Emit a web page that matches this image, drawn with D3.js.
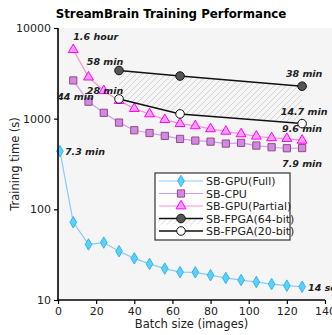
<!DOCTYPE html>
<html>
<head>
<meta charset="utf-8">
<script src="https://cdn.jsdelivr.net/npm/d3@7"></script>
<style>
  body { margin: 0; background: #fff; }
  svg { font-family: "DejaVu Sans", sans-serif; }
</style>
</head>
<body>
<svg id="chart" width="332" height="335"></svg>
<script>
// batch sizes
const batchSizes = [8, 16, 24, 32, 40, 48, 56, 64, 72, 80, 88, 96, 104, 112, 120, 128];
const gpuFullX = [1].concat(batchSizes);
const gpuFull = [438, 72, 41, 43, 34.5, 28.8, 25, 22.2, 20.3, 20.2, 18.8, 17.5, 16.6, 15.8, 15, 14.4, 14];
const cpu = [2640, 1540, 1160, 905, 745, 695, 645, 598, 573, 558, 531, 541, 505, 484, 472, 474];
const gpuPartial = [5760, 2870, 2030, 1580, 1290, 1127, 975, 881, 832, 771, 725, 679, 640, 614, 603, 576];
const fpgaX = [32, 64, 128];
const fpga64 = [3400, 2950, 2280];
const fpga20 = [1650, 1128, 882];
const xTicks = [0, 20, 40, 60, 80, 100, 120, 140];
const yTicks = [10, 100, 1000, 10000];

const svg = d3.select("#chart");
const mLeft = 58, mRight = 325, mTop = 28, mBottom = 300;

const x = d3.scaleLinear().domain([0, 140]).range([mLeft, mRight]);
const y = d3.scaleLog().domain([10, 10000]).range([mBottom, mTop]);

// hatch pattern for FPGA gap
const defs = svg.append("defs");
const pat = defs.append("pattern")
  .attr("id", "hatch")
  .attr("patternUnits", "userSpaceOnUse")
  .attr("width", 6).attr("height", 6);
pat.append("path")
  .attr("d", "M-1,1 l2,-2 M0,6 l6,-6 M5,7 l2,-2")
  .attr("stroke", "#d4d4d4").attr("stroke-width", 1);

// plot background
svg.append("rect")
  .attr("x", mLeft).attr("y", mTop)
  .attr("width", 332 - mLeft).attr("height", mBottom - mTop)
  .attr("fill", "#f5f5f5");

// hatched area between the two FPGA lines
const band = fpgaX.map((d, i) => ({ x: d, hi: fpga64[i], lo: fpga20[i] }));
svg.append("path")
  .datum(band)
  .attr("d", d3.area().x(d => x(d.x)).y0(d => y(d.lo)).y1(d => y(d.hi)))
  .attr("fill", "url(#hatch)");

const line = d3.line().x(d => x(d[0])).y(d => y(d[1]));
const zip = (xs, ys) => xs.map((d, i) => [d, ys[i]]);

const series = [
  { name: "SB-GPU(Full)", xs: gpuFullX, ys: gpuFull, line: "#8ccaf7", fill: "#55d4ff", edge: "#3fb0f0", shape: d3.symbolDiamond, size: 38 },
  { name: "SB-CPU", xs: batchSizes, ys: cpu, line: "#c6a0f5", fill: "#cc8be8", edge: "#a0457f", shape: d3.symbolSquare, size: 52 },
  { name: "SB-GPU(Partial)", xs: batchSizes, ys: gpuPartial, line: "#ff8ecf", fill: "#ff9cff", edge: "#ff00ff", shape: d3.symbolTriangle, size: 42 },
  { name: "SB-FPGA(64-bit)", xs: fpgaX, ys: fpga64, line: "#111", fill: "#555", edge: "#111", shape: d3.symbolCircle, size: 58 },
  { name: "SB-FPGA(20-bit)", xs: fpgaX, ys: fpga20, line: "#111", fill: "#fff", edge: "#111", shape: d3.symbolCircle, size: 58 }
];

series.forEach(s => {
  const pts = zip(s.xs, s.ys);
  svg.append("path")
    .attr("d", line(pts))
    .attr("fill", "none")
    .attr("stroke", s.line)
    .attr("stroke-width", s.line === "#111" ? 1.5 : 1.2);
  svg.selectAll(null)
    .data(pts)
    .enter()
    .append("path")
    .attr("d", d3.symbol().type(s.shape).size(s.size))
    .attr("transform", d => `translate(${x(d[0])},${y(d[1])})`)
    .attr("fill", s.fill)
    .attr("stroke", s.edge)
    .attr("stroke-width", 1);
});

// axes
const xAxis = svg.append("g")
  .attr("transform", `translate(0,${mBottom})`)
  .call(d3.axisBottom(x).tickValues(xTicks).tickSize(4).tickFormat(d3.format("d")));
const yAxis = svg.append("g")
  .attr("transform", `translate(${mLeft},0)`)
  .call(d3.axisLeft(y).tickValues(yTicks).tickSize(4).tickFormat(d3.format("d")));
[xAxis, yAxis].forEach(a => {
  a.selectAll("text").attr("font-size", 11).attr("fill", "#222")
    .attr("font-family", "DejaVu Sans");
  a.selectAll("line").attr("stroke", "#000").attr("stroke-width", 1.2);
  a.select(".domain").attr("stroke", "#000").attr("stroke-width", 1.6);
});
xAxis.select(".domain").attr("d", `M${mLeft},0H${mRight}`);
yAxis.select(".domain").attr("d", `M0,${mBottom}V${mTop}`);

// title and axis labels
svg.append("text")
  .attr("x", 171).attr("y", 18)
  .attr("text-anchor", "middle")
  .attr("font-size", 11.8).attr("font-weight", "bold")
  .text("StreamBrain Training Performance");
svg.append("text")
  .attr("x", x(70)).attr("y", 328)
  .attr("text-anchor", "middle")
  .attr("font-size", 11.5).attr("fill", "#222")
  .text("Batch size (images)");
svg.append("text")
  .attr("transform", `translate(19,${(mTop + mBottom) / 2}) rotate(-90)`)
  .attr("text-anchor", "middle")
  .attr("font-size", 11.5).attr("fill", "#222")
  .text("Training time (s)");

// annotations
const notes = [
  { t: "1.6 hour", x: 8, v: 5760, dx: 0, dy: -10, anchor: "start" },
  { t: "58 min", x: 32, v: 3400, dx: -14, dy: -5, anchor: "middle" },
  { t: "38 min", x: 128, v: 2280, dx: 2, dy: -9, anchor: "middle" },
  { t: "28 min", x: 32, v: 1650, dx: -14, dy: -5, anchor: "middle" },
  { t: "44 min", x: 8, v: 2640, dx: -16, dy: 20, anchor: "start" },
  { t: "14.7 min", x: 128, v: 882, dx: 2, dy: -9, anchor: "middle" },
  { t: "9.6 min", x: 128, v: 576, dx: 0, dy: -8, anchor: "middle" },
  { t: "7.3 min", x: 1, v: 438, dx: 5, dy: 4, anchor: "start" },
  { t: "7.9 min", x: 128, v: 474, dx: 0, dy: 19, anchor: "middle" },
  { t: "14 sec", x: 128, v: 14, dx: 6, dy: 4, anchor: "start" }
];
svg.selectAll(null)
  .data(notes)
  .enter()
  .append("text")
  .attr("x", d => x(d.x) + d.dx)
  .attr("y", d => y(d.v) + d.dy)
  .attr("text-anchor", d => d.anchor)
  .attr("font-size", 9.5)
  .attr("font-weight", "bold")
  .attr("font-style", "italic")
  .attr("fill", "#222")
  .text(d => d.t);

// legend
const lg = svg.append("g").attr("transform", "translate(155,173)");
lg.append("rect")
  .attr("width", 135).attr("height", 67)
  .attr("fill", "#fff").attr("stroke", "#333").attr("stroke-width", 1.2);
series.forEach((s, i) => {
  const ry = 8 + i * 12.5;
  const row = lg.append("g").attr("transform", `translate(0,${ry})`);
  if (i === 3) {
    row.append("rect").attr("x", 4).attr("y", 0).attr("width", 44).attr("height", 6)
      .attr("fill", "url(#hatch)");
  }
  row.append("line").attr("x1", 4).attr("x2", 48)
    .attr("stroke", s.line).attr("stroke-width", s.line === "#111" ? 1.5 : 1.2);
  row.append("path")
    .attr("d", d3.symbol().type(s.shape).size(s.size))
    .attr("transform", "translate(26,0)")
    .attr("fill", s.fill).attr("stroke", s.edge);
  row.append("text")
    .attr("x", 51).attr("y", 4)
    .attr("font-size", 11).attr("fill", "#222")
    .text(s.name);
});
</script>
</body>
</html>
